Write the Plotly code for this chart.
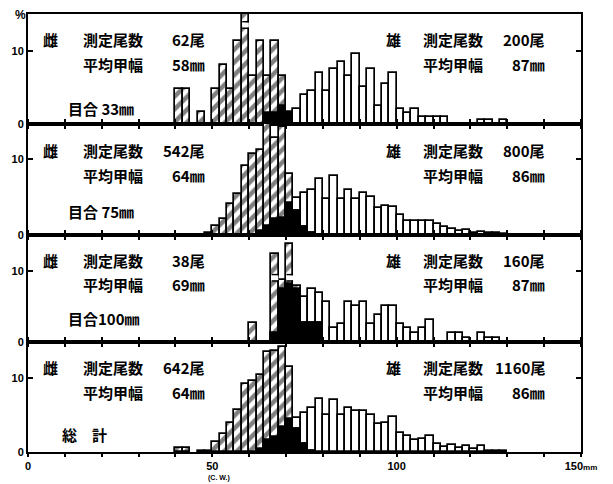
import plotly.graph_objects as go
from plotly.subplots import make_subplots

# 2 mm carapace-width classes (lower edge, mm)
bin_start = list(range(40, 130, 2))
bin_mid = [b + 1 for b in bin_start]

# Percent frequency per class, females (雌) and males (雄), by mesh size
female_33 = [4.8, 4.8, 0, 1.6, 0, 4.8, 8.1, 4.8, 11.3, 16.1, 6.5, 11.3, 6.5, 11.3, 6.5, 1.6] + [0] * 29
male_33 = [0] * 12 + [1.5, 1.5, 2.5, 1.5, 2.0, 4.0, 4.5, 7.0, 4.5, 7.5, 8.5, 6.5, 9.5, 5.0, 7.5, 2.5,
                      5.5, 7.0, 2.0, 1.5, 2.0, 1.0, 1.0, 1.0, 1.0, 0, 0, 0, 0, 0.5, 0.5, 0, 0.5]

female_75 = [0, 0, 0, 0, 0.2, 1.2, 2.1, 4.1, 5.4, 9.2, 10.7, 11.2, 16.1, 12.9, 14.3, 8.1, 3.2, 1.0, 0.3] + [0] * 26
male_75 = [0] * 11 + [0.5, 1.2, 2.1, 2.3, 4.2, 4.9, 5.5, 6.0, 7.4, 4.8, 7.8, 4.8, 6.0, 4.8, 5.6, 5.0, 3.6,
                      3.9, 3.7, 2.6, 1.8, 1.9, 1.9, 1.8, 1.4, 1.0, 0.8, 0.5, 0.6, 0.3, 0.4, 0.2, 0.3, 0.1]

female_100 = [0] * 10 + [2.6, 0, 0, 12.4, 8.7, 13.7, 7.9, 2.6, 2.6, 2.6] + [0] * 25
male_100 = [0] * 13 + [1.3, 7.5, 8.1, 7.5, 6.3, 7.5, 6.9, 5.6, 1.9, 2.5, 5.6, 5.0, 5.6, 2.5, 3.8, 5.0,
                       5.0, 2.5, 1.9, 1.3, 1.9, 3.1, 0, 0, 1.3, 1.3, 0.6, 0, 1.3, 0.6, 0.6, 0]

female_all = [0.5, 0.5, 0, 0.2, 0.2, 1.3, 2.4, 3.9, 5.6, 9.1, 9.6, 10.4, 13.5, 13.6, 14.1, 11.4, 3.1, 1.1, 0.2] + [0] * 26
male_all = [0] * 11 + [0.4, 1.6, 2.0, 3.3, 4.4, 4.6, 5.2, 5.9, 7.1, 5.0, 7.0, 5.0, 5.9, 5.5, 5.5, 5.0, 3.7,
                       3.9, 4.7, 2.5, 2.1, 1.6, 1.8, 2.1, 1.1, 0.7, 0.9, 0.5, 0.8, 0.4, 0.8, 0.2, 0.1, 0.1]

female_series = [female_33, female_75, female_100, female_all]
male_series = [male_33, male_75, male_100, male_all]

# Panel captions and summary statistics
panel_labels = ["目合 33㎜", "目合 75㎜", "目合100㎜", "総　計"]
female_n = [62, 542, 38, 642]
female_mean = [58, 64, 69, 64]
male_n = [200, 800, 160, 1160]
male_mean = [87, 86, 87, 86]

# Classes drawn with a broken (truncated) bar: (panel, class lower edge, break level %)
break_marks = [(1, 58, 13.5), (3, 66, 9.0), (3, 70, 9.0)]

# x-axis tick labels (mm)
x_ticks = list(range(0, 151, 10))
x_tick_text = {0: "0", 50: "50", 100: "100", 150: "150<span style='font-size:8px'>mm</span>"}

# Layout of the stacked panels
domains = [[0.7489, 1.0], [0.4955, 0.7489], [0.2511, 0.4955], [0.0, 0.2511]]
y_tops = [15.0, 14.7, 15.0, 14.8]
caption_y = [0.145, 0.21, 0.22, 0.16]

fig = make_subplots(rows=4, cols=1, shared_xaxes=True, vertical_spacing=0)

outline = dict(color="black", width=1.7)


def nz(vals):
    return [v if v > 0 else None for v in vals]


for r, (fem, mal) in enumerate(zip(female_series, male_series), start=1):
    overlap = [min(f, m) for f, m in zip(fem, mal)]
    fig.add_trace(go.Bar(x=bin_mid, y=nz(mal), width=2,
                         marker=dict(color="white", line=outline)), row=r, col=1)
    fig.add_trace(go.Bar(x=bin_mid, y=nz(fem), width=2,
                         marker=dict(color="white", line=outline,
                                     pattern=dict(shape="/", fgcolor="black", bgcolor="white",
                                                  size=9, solidity=0.5))), row=r, col=1)
    fig.add_trace(go.Bar(x=bin_mid, y=nz(overlap), width=2,
                         marker=dict(color="black", line=outline)), row=r, col=1)

# Break symbols on truncated bars
for panel, b0, lvl in break_marks:
    xs = [b0 + 0.1, b0 + 1.9]
    fig.add_trace(go.Scatter(x=xs, y=[lvl, lvl], mode="lines",
                             line=dict(color="white", width=5)), row=panel, col=1)
    for d in (-0.45, 0.45):
        fig.add_trace(go.Scatter(x=xs, y=[lvl + d, lvl + d], mode="lines",
                                 line=dict(color="black", width=1.4)), row=panel, col=1)

jp = dict(family="Noto Sans CJK JP", size=15, color="black", weight="bold")
num_font = dict(family="Liberation Sans", size=11, color="black", weight="bold")

annotations = []
for i in range(4):
    r = i + 1
    xr = "x" if r == 1 else f"x{r}"
    yr = ("y" if r == 1 else f"y{r}") + " domain"

    def add(text, x, y, anchor):
        annotations.append(dict(text=text, x=x, y=y, xref=xr, yref=yr, xanchor=anchor,
                                yanchor="middle", showarrow=False, font=jp))

    # females, left block
    add("雌", 3.6, 0.765, "left")
    add("測定尾数", 14.4, 0.765, "left")
    add(f"{female_n[i]}尾", 48.6, 0.765, "right")
    add("平均甲幅", 14.4, 0.54, "left")
    add(f"{female_mean[i]}㎜", 48.6, 0.54, "right")
    # males, right block
    add("雄", 96.6, 0.765, "left")
    add("測定尾数", 106.5, 0.765, "left")
    add(f"{male_n[i]}尾", 140.8, 0.765, "right")
    add("平均甲幅", 106.5, 0.54, "left")
    add(f"{male_mean[i]}㎜", 140.8, 0.54, "right")
    # mesh size caption
    add(panel_labels[i], 8.6 if i == 3 else 10.2, caption_y[i], "left")

annotations.append(dict(text="%", x=-0.014, y=0.998, xref="paper", yref="paper",
                        xanchor="center", yanchor="middle", showarrow=False,
                        font=dict(family="Liberation Sans", size=12, color="black", weight="bold")))
annotations.append(dict(text="(C. W.)", x=0.345, y=-0.071, xref="paper", yref="paper",
                        xanchor="center", yanchor="bottom", showarrow=False, borderpad=0,
                        font=dict(family="Liberation Sans", size=7, color="black", weight="bold")))

fig.update_layout(width=613, height=484, margin=dict(l=24, r=32, t=13, b=29),
                  plot_bgcolor="white", paper_bgcolor="white", showlegend=False,
                  barmode="overlay", bargap=0, annotations=annotations)

for i in range(4):
    r = i + 1
    fig.update_yaxes(row=r, col=1, domain=domains[i], range=[0, y_tops[i]],
                     tickvals=[0, 10], ticktext=["0", "10"], ticks="inside", ticklen=5,
                     tickwidth=1.5, tickcolor="black", showline=True, linecolor="black",
                     linewidth=2, mirror="ticks", showgrid=False, zeroline=False,
                     tickfont=num_font, fixedrange=True)
    fig.update_xaxes(row=r, col=1, range=[0, 150], tickvals=x_ticks,
                     ticktext=[x_tick_text.get(v, "") for v in x_ticks],
                     showticklabels=(r == 4), ticks="outside", ticklen=3, tickwidth=1.5,
                     tickcolor="black", showline=True, linecolor="black", linewidth=2,
                     mirror=True if r == 1 else "ticks", showgrid=False, zeroline=False,
                     tickfont=num_font, ticklabelstandoff=0)

fig.write_html("out.html")
